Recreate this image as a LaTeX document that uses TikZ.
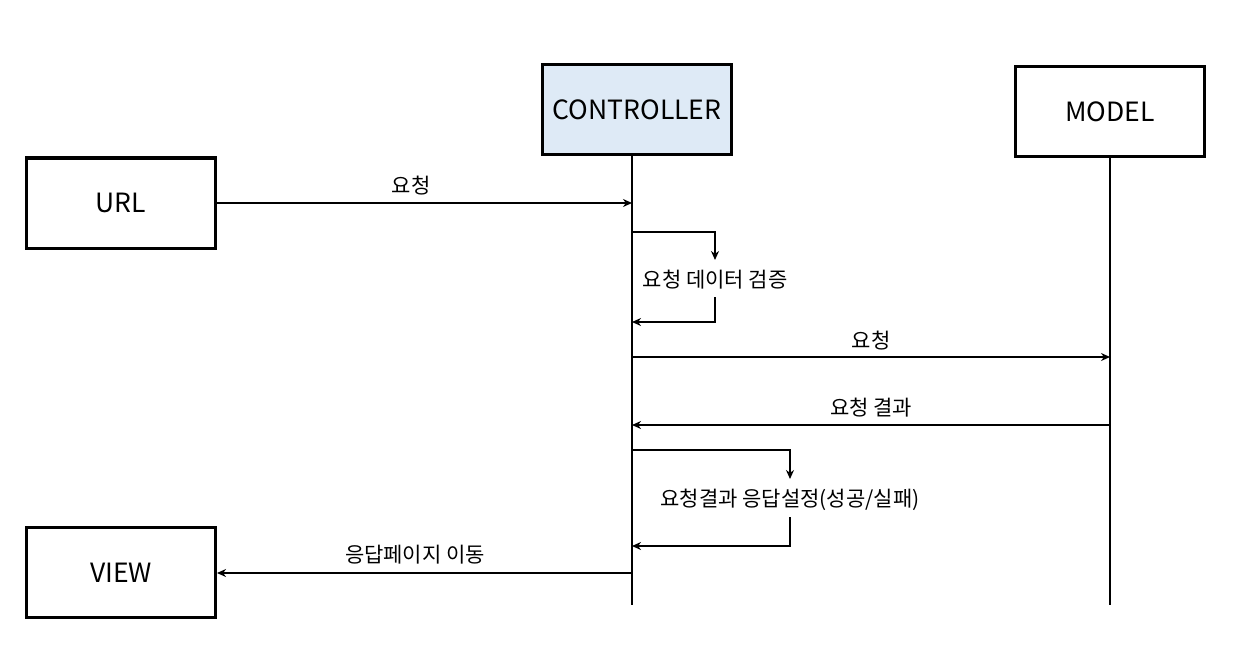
\documentclass[tikz,border=0pt]{standalone}
\usepackage{fontspec}
\setmainfont{Noto Sans CJK KR}
\usetikzlibrary{arrows.meta}
\definecolor{ctrlfill}{HTML}{DEEAF6}
\tikzset{
  actor/.style={draw=black, line width=3pt, minimum width=189pt, minimum height=90pt, inner sep=0pt, font=\fontsize{26.5}{30}\selectfont},
  life/.style={line width=2.8pt},
  msg/.style={line width=2.8pt, -{Stealth[length=9pt,width=8pt]}},
  lbl/.style={font=\fontsize{21}{24}\selectfont, inner sep=1pt},
}
\begin{document}
\begin{tikzpicture}[x=1pt,y=-1pt]
\useasboundingbox (0,0) rectangle (1242,650);
% actors
\node[actor] (url) at (121,203) {URL};
\node[actor, fill=ctrlfill] (ctrl) at (637,109.5) {CONTROLLER};
\node[actor] (model) at (1110,111.5) {MODEL};
\node[actor] (view) at (121,572.5) {VIEW};
% lifeline ends
\coordinate (cTop) at (632,156);
\coordinate (cBot) at (632,605);
\coordinate (mTop) at (1110,157);
\coordinate (mBot) at (1110,605);
\draw[life] (cTop) -- (cBot);
\draw[life] (mTop) -- (mBot);
% URL -> controller
\coordinate (c1) at (632,203);
\draw[msg] (url.east |- c1) -- (c1);
\node[lbl] (t1) at (411,186) {요청};
% self loop 1
\coordinate (l1a) at (632,232);
\coordinate (l1b) at (715,232);
\coordinate (l1c) at (715,260);
\node[lbl] (v1) at (715,280) {요청 데이터 검증};
\coordinate (l1d) at (715,297);
\coordinate (l1e) at (715,322);
\coordinate (l1f) at (632,322);
\draw[msg] (l1a) -- (l1b) -- (l1c);
\draw[msg] (l1d) -- (l1e) -- (l1f);
% controller -> model
\coordinate (c2) at (632,357);
\coordinate (m2) at (1110,357);
\draw[msg] (c2) -- (m2);
\node[lbl] (t2) at (871,341) {요청};
% model -> controller
\coordinate (m3) at (1110,425);
\coordinate (c3) at (632,425);
\draw[msg] (m3) -- (c3);
\node[lbl] (t3) at (871,408) {요청 결과};
% self loop 2
\coordinate (l2a) at (632,450);
\coordinate (l2b) at (790,450);
\coordinate (l2c) at (790,479);
\node[lbl] (v2) at (790,500) {요청결과 응답설정(성공/실패)};
\coordinate (l2d) at (790,517);
\coordinate (l2e) at (790,546);
\coordinate (l2f) at (632,546);
\draw[msg] (l2a) -- (l2b) -- (l2c);
\draw[msg] (l2d) -- (l2e) -- (l2f);
% controller -> view
\coordinate (c4) at (632,573);
\draw[msg] (c4) -- (view.east |- c4);
\node[lbl] (t4) at (415,555) {응답페이지 이동};
\end{tikzpicture}
\end{document}
